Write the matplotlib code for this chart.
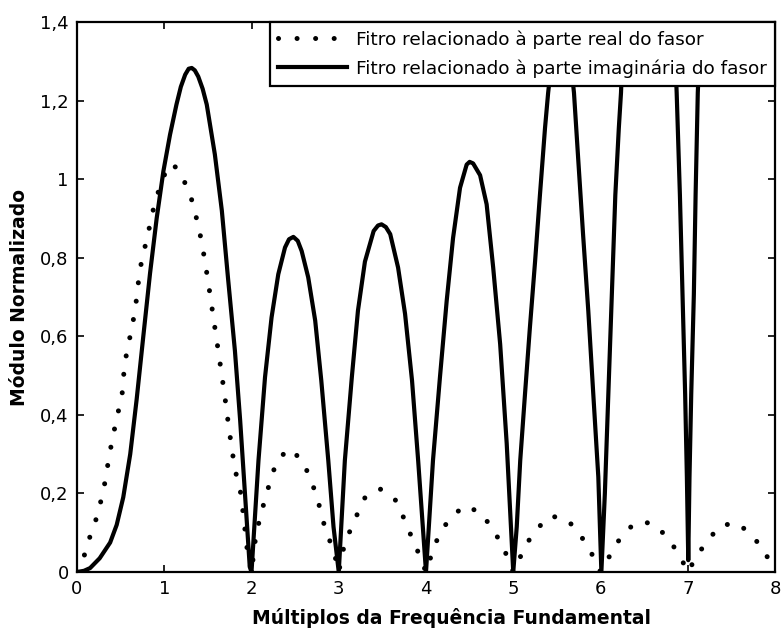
import matplotlib
matplotlib.use("Agg")
import matplotlib.pyplot as plt

# ---- data ----
x_real = [0.0, 0.11, 0.157, 0.237, 0.283, 0.332, 0.363, 0.405, 0.45, 0.516, 0.546, 0.588,
          0.634, 0.67, 0.72, 0.768, 0.818, 0.863, 0.92, 1.0, 1.08, 1.158, 1.257, 1.333,
          1.43, 1.50, 1.563, 1.627, 1.69, 1.746, 1.81, 1.87, 1.91, 1.945, 2.0,
          2.05, 2.10, 2.16, 2.22, 2.29, 2.43, 2.59, 2.67, 2.75, 2.80, 2.86, 2.94, 3.0,
          3.05, 3.12, 3.21, 3.30, 3.47, 3.645, 3.74, 3.82, 3.905, 4.0,
          4.08, 4.16, 4.275, 4.44, 4.64, 4.755, 4.87, 5.0,
          5.15, 5.265, 5.42, 5.615, 5.75, 5.87, 6.0,
          6.09, 6.185, 6.32, 6.47, 6.64, 6.79, 6.91, 7.0,
          7.12, 7.255, 7.37, 7.57, 7.73, 7.866, 8.0]
y_real = [0.0, 0.056, 0.098, 0.145, 0.19, 0.24, 0.289, 0.337, 0.386, 0.45, 0.53, 0.578,
          0.627, 0.673, 0.769, 0.817, 0.865, 0.913, 0.96, 1.01, 1.04, 1.025, 0.982, 0.936,
          0.84, 0.744, 0.648, 0.551, 0.454, 0.358, 0.261, 0.21, 0.14, 0.066, 0.0,
          0.094, 0.14, 0.19, 0.235, 0.283, 0.314, 0.283, 0.238, 0.194, 0.146, 0.10, 0.056, 0.0,
          0.056, 0.10, 0.146, 0.189, 0.212, 0.185, 0.14, 0.097, 0.053, 0.0,
          0.056, 0.10, 0.136, 0.169, 0.15, 0.11, 0.072, 0.0,
          0.071, 0.108, 0.143, 0.134, 0.10, 0.06, 0.0,
          0.035, 0.073, 0.111, 0.13, 0.118, 0.081, 0.041, 0.0,
          0.047, 0.087, 0.118, 0.125, 0.094, 0.058, 0.0]

x_imag = [0.0, 0.08, 0.15, 0.26, 0.38, 0.455, 0.53, 0.61, 0.684, 0.76, 0.837, 0.913, 0.99,
          1.066, 1.14, 1.19, 1.24, 1.28, 1.315, 1.35, 1.39, 1.44, 1.487, 1.58, 1.66, 1.73,
          1.81, 1.87, 1.925, 1.98, 2.0,
          2.08, 2.155, 2.23, 2.307, 2.384, 2.43, 2.48, 2.53, 2.575, 2.65, 2.73, 2.80, 2.88,
          2.94, 3.0,
          3.07, 3.15, 3.22, 3.30, 3.40, 3.45, 3.49, 3.54, 3.59, 3.68, 3.76, 3.84, 3.91, 4.0,
          4.08, 4.16, 4.237, 4.31, 4.39, 4.466, 4.50, 4.54, 4.62, 4.695, 4.77, 4.85, 4.925, 5.0,
          5.04, 5.08, 5.135, 5.19, 5.25, 5.306, 5.364, 5.40, 5.47, 5.55, 5.63, 5.696, 5.746,
          5.80, 5.86, 5.917, 5.975, 6.01,
          6.05, 6.09, 6.13, 6.17, 6.21, 6.235, 6.35, 6.55, 6.75, 6.873, 6.91, 6.94, 6.97,
          6.99, 7.006, 7.02, 7.04, 7.07, 7.09, 7.115, 7.3, 7.6, 8.0]
y_imag = [0.0, 0.003, 0.01, 0.035, 0.075, 0.12, 0.19, 0.30, 0.44, 0.60, 0.76, 0.90, 1.02,
          1.113, 1.19, 1.235, 1.266, 1.281, 1.283, 1.277, 1.261, 1.23, 1.19, 1.063, 0.92, 0.75,
          0.563, 0.386, 0.2, 0.013, 0.0,
          0.284, 0.496, 0.648, 0.758, 0.826, 0.847, 0.853, 0.843, 0.817, 0.75, 0.64, 0.487, 0.284,
          0.115, 0.0,
          0.284, 0.496, 0.665, 0.79, 0.868, 0.882, 0.885, 0.878, 0.86, 0.775, 0.657, 0.487, 0.284, 0.0,
          0.284, 0.496, 0.69, 0.85, 0.978, 1.037, 1.044, 1.04, 1.01, 0.936, 0.775, 0.58, 0.327, 0.0,
          0.115, 0.284, 0.454, 0.62, 0.79, 0.96, 1.13, 1.22, 1.36, 1.42, 1.36, 1.22, 1.046,
          0.86, 0.665, 0.454, 0.242, 0.0,
          0.2, 0.454, 0.707, 0.96, 1.13, 1.22, 1.9, 2.4, 1.9, 1.22, 0.96, 0.707, 0.454,
          0.242, 0.03, 0.242, 0.454, 0.707, 0.96, 1.22, 2.2, 3.0, 3.5]

xticks = [0, 1, 2, 3, 4, 5, 6, 7, 8]
yticks = [0, 0.2, 0.4, 0.6, 0.8, 1.0, 1.2, 1.4]
yticklabels = ["0", "0,2", "0,4", "0,6", "0,8", "1", "1,2", "1,4"]
label_real = "Fitro relacionado à parte real do fasor"
label_imag = "Fitro relacionado à parte imaginária do fasor"
xlabel = "Múltiplos da Frequência Fundamental"
ylabel = "Módulo Normalizado"

plt.rcParams['font.family'] = ['DejaVu Sans']

fig = plt.figure(figsize=(7.83, 6.30), dpi=100)
ax = fig.add_axes([77/783, 1 - 572/630, (775 - 77)/783, (572 - 22)/630])

ax.plot(x_real, y_real, color='black', linewidth=3.6, linestyle=(0, (0.01, 3.7)),
        dash_capstyle='round', label=label_real)
ax.plot(x_imag, y_imag, color='black', linewidth=3.0, solid_joinstyle='round',
        label=label_imag)

ax.set_xlim(0, 8)
ax.set_ylim(0, 1.4)
ax.set_xticks(xticks)
ax.set_xticklabels([str(v) for v in xticks])
ax.set_yticks(yticks)
ax.set_yticklabels(yticklabels)
ax.tick_params(direction='in', top=True, right=True, length=5, width=1.2,
               labelsize=13, pad=6)
for s in ax.spines.values():
    s.set_linewidth(1.6)

ax.set_xlabel(xlabel, fontsize=13.5, fontweight='bold')
ax.xaxis.set_label_coords(0.537, -0.065)
ax.set_ylabel(ylabel, fontsize=13.5, fontweight='bold', labelpad=8)

leg = ax.legend(loc='upper right', prop={'size': 13.3},
                frameon=True, fancybox=False,
                borderaxespad=0, handlelength=3.7, handletextpad=0.5,
                borderpad=0.45, labelspacing=0.56)
leg.get_frame().set_edgecolor('black')
leg.get_frame().set_linewidth(1.6)
leg.get_frame().set_alpha(1)

fig.savefig("out.png", dpi=100)
